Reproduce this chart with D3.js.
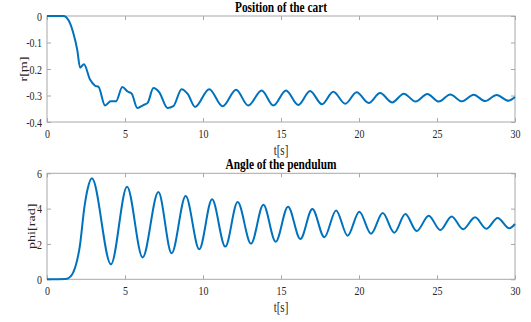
<!DOCTYPE html>
<html>
<head>
<meta charset="utf-8">
<script src="https://cdn.jsdelivr.net/npm/d3@7"></script>
<style>
  html, body { margin: 0; padding: 0; background: #fff; }
  svg { display: block; }
  text { font-family: "Liberation Serif", "Times New Roman", serif; }
  .sy { transform-box: fill-box; transform-origin: center; transform: scaleY(1.25); }
</style>
</head>
<body>
<script>
// ---- data ----
const cartT = [0, 1.05, 1.4, 1.69, 1.94, 2.12, 2.37, 2.76, 3.08, 3.31, 3.72, 4.08, 4.42, 4.83, 5.17, 5.43, 5.79, 6.18, 6.45, 6.82, 7.2, 7.72, 8.1, 8.63, 9.02, 9.49, 10.4, 11.26, 12.12, 12.9, 13.76, 14.51, 15.32, 16.11, 16.86, 17.63, 18.35, 19.12, 19.85, 20.62, 21.35, 22.13, 22.87, 23.63, 24.38, 25.11, 25.85, 26.6, 27.35, 28.08, 28.83, 29.57, 30];
const cartR = [0, 0, -0.018, -0.065, -0.128, -0.195, -0.182, -0.24, -0.263, -0.268, -0.338, -0.322, -0.322, -0.268, -0.285, -0.293, -0.347, -0.336, -0.328, -0.272, -0.288, -0.347, -0.34, -0.276, -0.294, -0.343, -0.276, -0.341, -0.278, -0.338, -0.281, -0.338, -0.281, -0.336, -0.283, -0.333, -0.286, -0.331, -0.288, -0.328, -0.291, -0.326, -0.293, -0.323, -0.294, -0.323, -0.296, -0.322, -0.297, -0.321, -0.298, -0.32, -0.306];

const phiT = [0, 1.2, 1.5, 1.8, 2.1, 2.4, 2.6, 2.88, 4.1, 5.13, 6.13, 7.14, 7.99, 8.89, 9.76, 10.58, 11.43, 12.22, 13.08, 13.87, 14.66, 15.45, 16.24, 17.01, 17.78, 18.53, 19.27, 20.02, 20.77, 21.52, 22.26, 22.97, 23.7, 24.47, 25.21, 25.94, 26.67, 27.44, 28.16, 28.89, 29.63, 30];
const phiV = [0, 0.02, 0.15, 0.65, 1.85, 4.1, 5.1, 5.72, 0.85, 5.24, 1.24, 4.94, 1.47, 4.71, 1.70, 4.53, 1.85, 4.37, 2.02, 4.22, 2.13, 4.11, 2.28, 3.98, 2.38, 3.90, 2.47, 3.83, 2.58, 3.75, 2.64, 3.70, 2.73, 3.60, 2.79, 3.56, 2.83, 3.51, 2.86, 3.47, 2.89, 3.13];

const xTicks = [0, 5, 10, 15, 20, 25, 30];
const cartTicks = [0, -0.1, -0.2, -0.3, -0.4];
const phiTicks = [0, 2, 4, 6];

const titles = ["Position of the cart", "Angle of the pendulum"];
const yLabels = ["r[m]", "phi[rad]"];
const xLabel = "t[s]";

// ---- drawing ----
const W = 531, H = 322;
const svg = d3.select("body").append("svg").attr("width", W).attr("height", H);

const lineColor = "#0072BD";
const boxColor = "#a8a8a8";
const textColor = "#262626";

function panel(opts) {
  const { top, bottom, yDomain, yTicks, fmt, tArr, vArr, title, titleY, yLabel, yLabelX, xLabelY } = opts;
  const x = d3.scaleLinear().domain([0, 30]).range([47, 515]);
  const y = d3.scaleLinear().domain(yDomain).range([bottom, top]);
  const g = svg.append("g");

  g.append("rect").attr("x", x(0)).attr("y", top)
    .attr("width", x(30) - x(0)).attr("height", bottom - top)
    .attr("fill", "none").attr("stroke", boxColor).attr("stroke-width", 1);

  const styleAxis = sel => {
    sel.select(".domain").remove();
    sel.selectAll(".tick line").attr("stroke", boxColor);
    sel.selectAll(".tick text").attr("fill", textColor)
      .style("font-family", '"Liberation Serif", serif').style("font-size", "10px")
      .attr("class", "sy");
  };

  g.append("g").attr("transform", `translate(0,${bottom})`)
    .call(d3.axisBottom(x).tickValues(xTicks).tickSize(-4).tickPadding(8).tickFormat(d3.format("d")))
    .call(styleAxis);
  g.append("g").attr("transform", `translate(0,${top})`)
    .call(d3.axisTop(x).tickValues(xTicks).tickSize(-4).tickFormat(""))
    .call(styleAxis);
  g.append("g").attr("transform", `translate(${x(0)},0)`)
    .call(d3.axisLeft(y).tickValues(yTicks).tickSize(-4).tickPadding(5).tickFormat(fmt))
    .call(styleAxis);
  g.append("g").attr("transform", `translate(${x(30)},0)`)
    .call(d3.axisRight(y).tickValues(yTicks).tickSize(-4).tickFormat(""))
    .call(styleAxis);

  const pts = tArr.map((t, i) => [t, vArr[i]]);
  g.append("path").datum(pts)
    .attr("fill", "none").attr("stroke", lineColor).attr("stroke-width", 2)
    .attr("stroke-linejoin", "round")
    .attr("d", d3.line().x(d => x(d[0])).y(d => y(d[1])).curve(d3.curveMonotoneX));

  g.append("text").attr("class", "sy")
    .attr("x", (x(0) + x(30)) / 2).attr("y", titleY)
    .attr("text-anchor", "middle").attr("dominant-baseline", "central")
    .style("font-weight", "bold").style("font-size", "11.4px").attr("fill", "#000")
    .text(title);

  g.append("text").attr("class", "sy")
    .attr("x", (x(0) + x(30)) / 2).attr("y", xLabelY)
    .attr("text-anchor", "middle").attr("dominant-baseline", "central")
    .style("font-size", "11px").attr("fill", textColor)
    .text(xLabel);

  g.append("text")
    .attr("transform", `translate(${yLabelX},${(top + bottom) / 2}) rotate(-90) scale(1.25,1)`)
    .attr("x", 0).attr("y", 0)
    .attr("text-anchor", "middle").attr("dominant-baseline", "central")
    .style("font-size", "11.3px").attr("fill", textColor)
    .text(yLabel);
}

panel({
  top: 16, bottom: 122, yDomain: [-0.4, 0], yTicks: cartTicks,
  fmt: d => d === 0 ? "0" : d.toFixed(1),
  tArr: cartT, vArr: cartR, title: titles[0], titleY: 7.5,
  yLabel: yLabels[0], yLabelX: 23.5, xLabelY: 150.5
});

panel({
  top: 173.3, bottom: 279.3, yDomain: [0, 6], yTicks: phiTicks,
  fmt: d3.format("d"),
  tArr: phiT, vArr: phiV, title: titles[1], titleY: 164.5,
  yLabel: yLabels[1], yLabelX: 31, xLabelY: 307.5
});
</script>
</body>
</html>
